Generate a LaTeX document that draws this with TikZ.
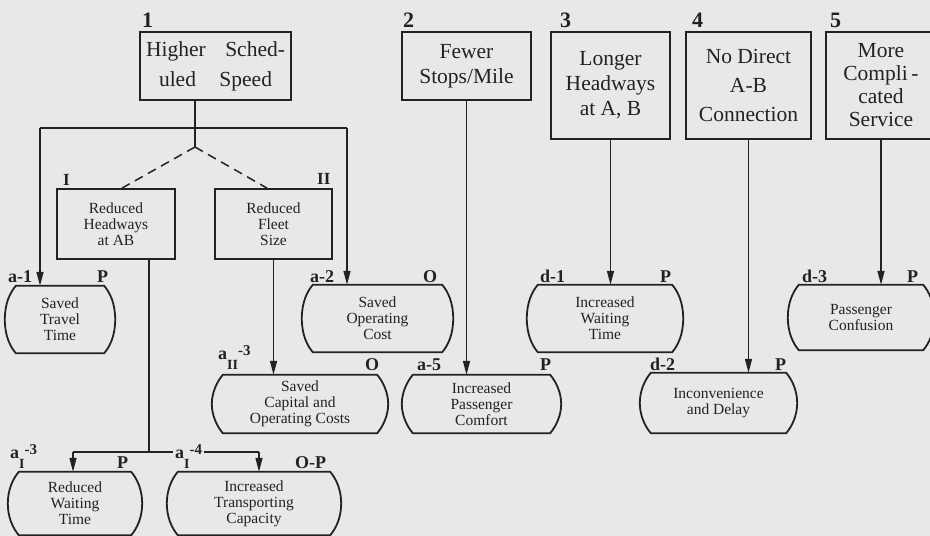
\documentclass[tikz,border=0pt]{standalone}
\usepackage{fontspec}
\setmainfont{Liberation Serif}
\usetikzlibrary{arrows.meta,calc}
\definecolor{bg}{HTML}{E8E8E8}
\definecolor{ink}{HTML}{222222}

\newcommand\effoutline[1]{%
 \draw[effline] ([xshift=11pt]#1.north west) -- ([xshift=-11pt]#1.north east)
   .. controls ([xshift=-5pt,yshift=-7pt]#1.north east) and ([yshift=-18pt]#1.north east) .. (#1.east)
   .. controls ([yshift=18pt]#1.south east) and ([xshift=-5pt,yshift=7pt]#1.south east) .. ([xshift=-11pt]#1.south east)
   -- ([xshift=11pt]#1.south west)
   .. controls ([xshift=5pt,yshift=7pt]#1.south west) and ([yshift=18pt]#1.south west) .. (#1.west)
   .. controls ([yshift=-18pt]#1.north west) and ([xshift=5pt,yshift=-7pt]#1.north west) .. cycle;}

\newcommand\sublab[3]{\textbf{#1\raisebox{-10pt}{\fontsize{14}{14}\selectfont #2}\raisebox{4pt}{\fontsize{15}{15}\selectfont -#3}}}

\tikzset{
 causebox/.style={draw=ink, line width=1.8pt, inner sep=0pt, align=center, text=ink},
 midbox/.style={draw=ink, line width=1.8pt, inner sep=0pt, align=center, text=ink, font=\fontsize{15.5}{16.2}\selectfont},
 effbox/.style={inner sep=0pt, align=center, text=ink, font=\fontsize{15.5}{16}\selectfont},
 effline/.style={draw=ink, line width=1.8pt},
 conn/.style={draw=ink, line width=1.5pt},
 arr/.style={conn, -{Triangle[length=14pt,width=7pt]}},
 dashconn/.style={conn, dash pattern=on 9pt off 6pt},
 lab/.style={font=\bfseries\fontsize{18}{18}\selectfont, text=ink, inner sep=0pt, anchor=base west},
 numlab/.style={font=\bfseries\fontsize{22}{22}\selectfont, text=ink, inner sep=0pt, anchor=base west},
}

\begin{document}
\begin{tikzpicture}[x=1pt,y=-1pt]
\fill[bg] (0,0) rectangle (930,536);
\useasboundingbox (0,0) rectangle (930,536);

% cause boxes
\node[causebox, minimum width=151pt, minimum height=68pt, font=\fontsize{21.5}{30}\selectfont] (b1) at (215.5,66)
  {\makebox[139pt][s]{Higher Sched-}\\\makebox[113pt][s]{uled Speed}};
\node[causebox, minimum width=129pt, minimum height=68pt, font=\fontsize{21.5}{25}\selectfont] (b2) at (466.5,66)
  {Fewer\\Stops/Mile};
\node[causebox, minimum width=119pt, minimum height=107pt, font=\fontsize{21.5}{25}\selectfont] (b3) at (610.5,85.5)
  {Longer\\Headways\\at A, B};
\node[causebox, minimum width=125pt, minimum height=107pt, font=\fontsize{21.5}{29}\selectfont] (b4) at (748.5,85.5)
  {No Direct\\A-B\\Connection};
\node[causebox, minimum width=110pt, minimum height=107pt, font=\fontsize{21.5}{23}\selectfont] (b5) at (881,85.5)
  {More\\Compli\,-\\cated\\Service};

\node[numlab] (n1) at (142,27) {1};
\node[numlab] (n2) at (403,27) {2};
\node[numlab] (n3) at (560,27) {3};
\node[numlab] (n4) at (692,27) {4};
\node[numlab] (n5) at (830,27) {5};

% intermediate boxes
\node[midbox, minimum width=118pt, minimum height=70pt] (bI) at (116,224) {Reduced\\Headways\\at AB};
\node[midbox, minimum width=117pt, minimum height=70pt] (bII) at (273.5,224) {Reduced\\Fleet\\Size};
\node[lab, font=\bfseries\fontsize{17}{17}\selectfont] (lI) at (63,185) {I};
\node[lab, font=\bfseries\fontsize{17}{17}\selectfont] (lII) at (317,184) {II};

% effect boxes
\node[effbox, minimum width=110pt, minimum height=67pt] (stt) at (60,319.5) {Saved\\Travel\\Time};
\node[effbox, minimum width=151pt, minimum height=67pt] (soc) at (377.5,318.5) {Saved\\Operating\\Cost};
\node[effbox, minimum width=156pt, minimum height=67pt] (iwt) at (605,318.5) {Increased\\Waiting\\Time};
\node[effbox, minimum width=146pt, minimum height=65pt] (pc) at (861,317.5) {Passenger\\Confusion};
\node[effbox, minimum width=176pt, minimum height=58pt] (scoc) at (300,404) {Saved\\Capital and\\Operating Costs};
\node[effbox, minimum width=159pt, minimum height=58pt] (ipc) at (481.5,404) {Increased\\Passenger\\Comfort};
\node[effbox, minimum width=157pt, minimum height=60pt] (iad) at (718.5,403) {Inconvenience\\and Delay};
\node[effbox, minimum width=134pt, minimum height=63pt] (rwt) at (75,503.5) {Reduced\\Waiting\\Time};
\node[effbox, minimum width=174pt, minimum height=63pt] (itc) at (254,503.5) {Increased\\Transporting\\Capacity};

% connectors
\coordinate (apex) at (195,147);
\coordinate (jl) at (40,128);
\coordinate (jr) at (347,128);
\coordinate (jI) at (149,452);
\coordinate (jIl) at (73,452);
\coordinate (jIr) at (259,452);

\draw[conn] (apex |- b1.south) -- (apex);
\draw[conn] (jl) -- (jr);
\draw[dashconn] (apex) -- ([xshift=6pt]bI.north);
\draw[dashconn] (apex) -- ([xshift=-6.5pt]bII.north);
\draw[arr] (jl) -- (jl |- stt.north);
\draw[arr] (jr) -- (jr |- soc.north);
\draw[arr] (bII.south) -- (bII.south |- scoc.north);
\draw[arr] (b2.south) -- (b2.south |- ipc.north);
\draw[arr] (b3.south) -- (b3.south |- iwt.north);
\draw[arr] (b4.south) -- (b4.south |- iad.north);
\draw[arr] (b5.south) -- (b5.south |- pc.north);
\draw[conn] (jI |- bI.south) -- (jI);
\draw[conn] (jIl) -- (jIr);
\draw[arr] (jIl) -- (jIl |- rwt.north);
\draw[arr] (jIr) -- (jIr |- itc.north);

% labels
\node[lab] (l-a1) at (8,282) {a-1};
\node[lab] (l-p1) at (97,282) {P};
\node[lab] (l-a2) at (310,282) {a-2};
\node[lab] (l-o2) at (423,282) {O};
\node[lab] (l-d1) at (540,282) {d-1};
\node[lab] (l-p3) at (660,282) {P};
\node[lab] (l-d3) at (802,282) {d-3};
\node[lab] (l-p5) at (907,282) {P};
\node[lab] (l-aII3) at (218,359) {\sublab{a}{II}{3}};
\node[lab] (l-o3) at (365,370) {O};
\node[lab] (l-a5) at (417,370) {a-5};
\node[lab] (l-p2) at (540,370) {P};
\node[lab] (l-d2) at (650,370) {d-2};
\node[lab] (l-p4) at (775,370) {P};
\node[lab] (l-aI3) at (10,458) {\sublab{a}{I}{3}};
\node[lab] (l-pI3) at (117,468) {P};
\node[lab, fill=bg, inner xsep=2pt] (l-aI4) at (173,458) {\sublab{a}{I}{4}};
\node[lab] (l-op) at (295,468) {O-P};

% effect outlines
\foreach \n in {stt,soc,iwt,pc,scoc,ipc,iad,rwt,itc} {\effoutline{\n}}
\end{tikzpicture}
\end{document}
